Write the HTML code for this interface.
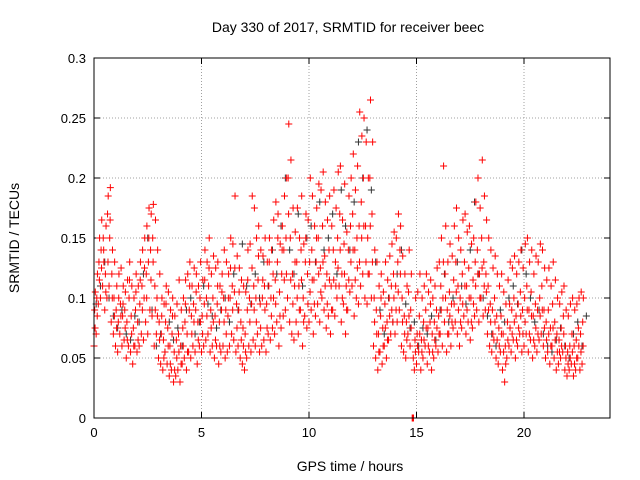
<!DOCTYPE html>
<html><head><meta charset="utf-8"><style>
body{margin:0;background:#fff}
svg{display:block;font-family:"Liberation Sans",sans-serif}
</style></head><body>
<svg id="chart" width="640" height="480">
<rect width="640" height="480" fill="#fff"/>
<text x="348" y="32" text-anchor="middle" font-size="14">Day 330 of 2017, SRMTID for receiver beec</text>
<text x="350" y="471" text-anchor="middle" font-size="14">GPS time / hours</text>
<text transform="translate(19,238) rotate(-90)" text-anchor="middle" font-size="14">SRMTID / TECUs</text>
<g id="grid"></g>
<g id="ticks"></g>
<g id="black"></g>
<g id="red"></g>
<rect x="94" y="58" width="516" height="360" fill="none" stroke="#000" stroke-width="1"/>
</svg>
<script>
const xTicks=[0,5,10,15,20];
const yTicks=[0,0.05,0.1,0.15,0.2,0.25,0.3];
const yTickLabels=["0","0.05","0.1","0.15","0.2","0.25","0.3"];
const redStepHours=0.1;
const redValuesMilli=[
[60,90,105],[70,100,120],[95,130,150],[100,140,165],[110,150,130],[90,120,160],[100,170,185],[110,150,192],[80,120,140],[70,100,130],
[60,90,110],[55,80,120],[70,95,125],[60,85,110],[65,90,105],[50,80,115],[60,100,130],[55,85,110],[45,75,100],[60,90,120],
[55,80,110],[60,95,130],[70,110,140],[65,100,150],[80,120,160],[70,130,175],[90,140,170],[85,150,178],[60,110,165],[70,100,140],
[50,80,120],[45,70,100],[40,65,95],[55,80,110],[45,75,105],[35,60,90],[40,70,100],[30,55,85],[35,65,95],[40,70,115],
[30,60,90],[45,75,100],[50,80,115],[40,70,120],[55,90,130],[50,85,110],[60,95,125],[55,90,120],[45,80,110],[60,100,130],
[55,85,115],[60,95,140],[65,100,130],[70,110,150],[55,90,120],[60,100,135],[50,85,125],[60,95,130],[45,80,110],[55,90,120],
[60,100,140],[50,90,130],[55,85,120],[60,100,150],[70,110,145],[65,105,185],[55,95,135],[60,90,125],[50,80,115],[45,75,110],
[40,70,105],[50,90,140],[60,100,145],[55,95,185],[65,110,175],[60,100,150],[70,115,160],[55,95,140],[60,100,135],[65,110,150],
[55,95,130],[70,110,150],[65,100,140],[75,120,165],[70,115,180],[80,130,170],[60,105,145],[75,120,160],[85,140,185],[90,150,200],
[100,200,245],[80,150,215],[70,120,175],[65,110,155],[80,130,175],[70,110,150],[90,140,185],[60,100,145],[85,130,170],[75,120,165],
[80,130,200],[90,140,185],[70,115,160],[85,130,175],[95,150,195],[80,125,190],[100,160,205],[90,135,180],[75,120,165],[85,140,185],
[70,110,160],[90,140,190],[85,130,175],[100,150,205],[110,170,210],[80,120,165],[95,145,195],[70,110,155],[90,140,185],[105,160,200],
[110,170,220],[85,140,190],[100,150,210],[95,160,255],[110,180,235],[120,200,250],[100,160,230],[95,150,200],[120,200,265],[100,170,230],
[60,100,140],[50,90,130],[40,70,110],[55,85,120],[45,75,105],[60,95,130],[50,80,115],[65,100,135],[70,110,145],[80,120,155],
[70,110,150],[80,130,170],[90,140,160],[60,100,135],[55,85,120],[50,80,110],[70,105,140],[60,90,120],[0,0,0],[40,65,100],
[45,70,105],[55,85,120],[40,65,100],[50,80,110],[60,90,120],[45,75,105],[55,80,115],[40,70,100],[50,80,110],[60,90,125],
[55,85,130],[70,110,150],[60,100,210],[80,120,160],[55,90,130],[70,105,145],[60,95,135],[75,115,160],[80,130,175],[70,110,150],
[60,100,140],[75,120,165],[85,130,170],[70,110,155],[80,125,160],[65,100,145],[75,115,150],[85,130,180],[90,140,200],[80,120,175],
[100,150,215],[85,130,185],[90,120,165],[70,110,150],[60,95,140],[55,90,125],[65,100,135],[50,85,120],[45,75,110],[55,85,120],
[40,70,105],[30,60,95],[50,80,115],[60,95,130],[55,90,125],[65,100,135],[50,85,120],[60,95,130],[70,105,140],[55,90,125],
[60,100,145],[70,110,150],[55,90,130],[65,105,140],[50,85,120],[60,95,135],[55,90,130],[65,100,145],[70,110,140],[60,90,125],
[50,80,115],[55,90,125],[45,75,110],[60,95,130],[50,80,115],[40,70,100],[45,65,95],[50,75,105],[55,85,110],[40,60,90],
[35,55,85],[40,60,95],[45,70,100],[35,60,90],[40,65,95],[50,75,100],[40,70,105],[45,80,100]
];
const redExtraMilli=[
75,85,115,125,140,105,130,165,100,85,
75,100,85,95,75,65,115,70,60,105,
65,115,90,125,100,150,115,130,90,85,
65,85,50,95,60,45,85,40,50,55,
45,60,95,55,110,70,80,105,65,80,
70,115,85,125,75,80,65,110,60,105,
80,70,100,125,90,125,75,105,65,60,
55,115,80,125,90,80,135,75,115,90,
75,130,85,100,95,150,85,140,115,120,
170,115,95,130,100,90,115,80,150,95,
105,115,95,150,120,105,130,110,95,115,
90,115,110,125,140,100,120,90,115,130,
140,115,125,130,150,160,130,120,160,130,
80,70,55,100,60,75,65,85,90,100,
90,105,120,80,70,65,85,75,50,55,
60,70,55,65,75,60,95,55,65,75,
70,90,130,100,70,85,80,95,105,90,
80,95,110,90,100,80,95,110,120,100,
125,110,105,90,80,70,80,65,60,70,
55,45,65,75,70,80,65,75,85,70,
80,90,70,85,65,75,70,85,90,75,
65,70,60,75,65,55,55,60,70,50,
45,50,55,45,50,60,55,60
];
const blackStepHours=0.2;
const blackValuesMilli=[
95,110,130,100,85,75,90,70,65,85,
80,120,150,90,60,70,55,80,65,75,
60,90,100,70,80,110,95,85,75,90,
100,80,120,90,145,110,95,120,100,130,
110,140,120,160,200,140,120,170,110,150,
160,130,180,140,150,170,120,190,160,140,
180,230,200,240,190,130,90,70,100,80,
120,140,95,75,80,60,75,70,85,65,
90,120,80,100,130,110,95,140,180,120,
100,85,70,60,90,80,100,110,95,140,
120,100,80,90,70,60,55,65,75,60,
50,70,80,60,85
];
const X0=94,X1=610,Y0=418,Y1=58,XMAX=24,YMAX=0.3;
const sx=v=>X0+v/XMAX*(X1-X0);
const sy=v=>Y0-v/YMAX*(Y0-Y1);
const NS="http://www.w3.org/2000/svg";
function mk(tag,attrs,parent){const e=document.createElementNS(NS,tag);for(const k in attrs)e.setAttribute(k,attrs[k]);parent.appendChild(e);return e;}
const grid=document.getElementById('grid'),ticks=document.getElementById('ticks');
xTicks.forEach(t=>{const x=sx(t);
 if(t>0){const g=mk('line',{x1:x,x2:x,y1:Y0,y2:Y1,stroke:'#a0a0a0','stroke-dasharray':'1,2'},grid);
 }
 mk('line',{x1:x,x2:x,y1:Y0,y2:Y0-6,stroke:'#000'},ticks);
 mk('line',{x1:x,x2:x,y1:Y1,y2:Y1+6,stroke:'#000'},ticks);
 const l=mk('text',{x:x,y:Y0+19,'text-anchor':'middle','font-size':13},ticks);l.textContent=t;
 
});
yTicks.forEach((t,i)=>{const y=sy(t);
 if(i>0&&i<yTicks.length-1){const g=mk('line',{x1:X0,x2:X1,y1:y,y2:y,stroke:'#a0a0a0','stroke-dasharray':'1,2'},grid);
 }
 mk('line',{x1:X0,x2:X0+6,y1:y,y2:y,stroke:'#000'},ticks);
 mk('line',{x1:X1,x2:X1-6,y1:y,y2:y,stroke:'#000'},ticks);
 const l=mk('text',{x:X0-8,y:y+5,'text-anchor':'end','font-size':13},ticks);l.textContent=yTickLabels[i];
 
});
function plus(g,t,v,col){const x=sx(t),y=sy(v);
 const p=mk('path',{d:`M${x-3.5},${y}h7M${x},${y-3.5}v7`,stroke:col,'stroke-width':1,fill:'none'},g);
 }
const bg=document.getElementById('black');
blackValuesMilli.forEach((v,i)=>plus(bg,i*blackStepHours+0.1,v/1000,'#333'));
const rg=document.getElementById('red');
redValuesMilli.forEach((grp,i)=>grp.forEach((v,j)=>plus(rg,i*redStepHours+j*0.03,v/1000,'#f00')));
redExtraMilli.forEach((v,i)=>plus(rg,i*redStepHours+0.05,v/1000,'#f00'));
</script>
</body></html>
